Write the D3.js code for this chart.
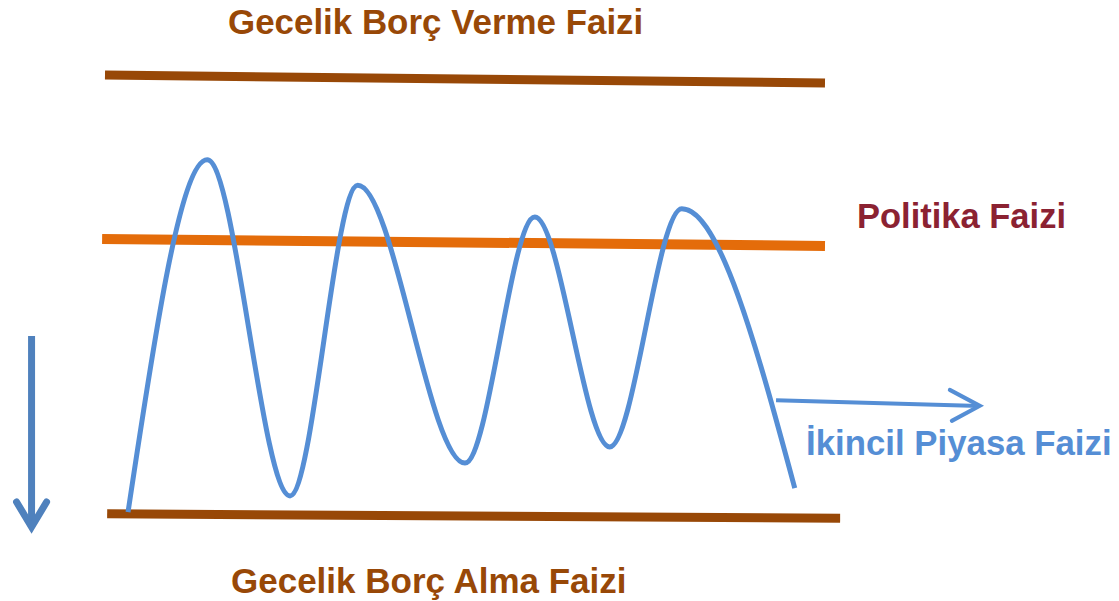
<!DOCTYPE html>
<html>
<head>
<meta charset="utf-8">
<script src="https://cdn.jsdelivr.net/npm/d3@7"></script>
<style>
  body { margin: 0; background: #fff; }
  text { font-family: "Liberation Sans", Arial, sans-serif; font-weight: bold; }
</style>
</head>
<body>
<div id="chart"></div>
<script>
// Diagram values (x: time units 0-100, y: rate units, 0 = borrowing rate)
const rateLines = ['Gecelik Borç Verme Faizi', 'Politika Faizi', 'Gecelik Borç Alma Faizi'];
const lineX = [[0, 100], [-0.4, 100], [0.3, 102.1]];
const lineY = [[10.09, 9.91], [6.34, 6.18], [0.05, -0.05]];
const lineColors = ['#984807', '#E46C0A', '#984807'];

// Secondary market rate: turning points of the wave
const marketX = [3.2, 14.2, 25.7, 35.1, 50, 59.7, 70.1, 80.1, 95.8];
const marketY = [0.09, 8.15, 0.46, 7.57, 1.21, 6.84, 1.58, 7.03, 0.64];

// arrows
const outArrowX = [93.2, 121.5];
const outArrowY = [2.65, 2.52];
const downArrowX = [-10.2, -10.2];
const downArrowY = [4.12, -0.32];

const width = 1119;
const height = 601;

const svg = d3.select('#chart')
    .append('svg')
    .attr('width', width)
    .attr('height', height);

const x = d3.scaleLinear().domain([0, 100]).range([105, 825]);
const y = d3.scaleLinear().domain([0, 10]).range([516, 79]);

// horizontal rate lines
rateLines.forEach((name, i) => {
    svg.append('line')
        .attr('x1', x(lineX[i][0]))
        .attr('y1', y(lineY[i][0]))
        .attr('x2', x(lineX[i][1]))
        .attr('y2', y(lineY[i][1]))
        .style('stroke', lineColors[i])
        .style('stroke-width', i === 1 ? 10 : 9);
});

// wave
const wave = d3.line()
    .x(d => x(d[0]))
    .y(d => y(d[1]))
    .curve(d3.curveMonotoneX);

svg.append('path')
    .datum(marketX.map((v, i) => [v, marketY[i]]))
    .attr('d', wave)
    .style('fill', 'none')
    .style('stroke', '#558ED5')
    .style('stroke-width', 5);

// arrow to the right
const ax1 = x(outArrowX[0]), ay1 = y(outArrowY[0]);
const ax2 = x(outArrowX[1]), ay2 = y(outArrowY[1]);
svg.append('line')
    .attr('x1', ax1).attr('y1', ay1)
    .attr('x2', ax2).attr('y2', ay2)
    .style('stroke', '#558ED5')
    .style('stroke-width', 4);
svg.append('path')
    .attr('d', `M${ax2 - 30},${ay2 - 16} L${ax2},${ay2} L${ax2 - 28},${ay2 + 15}`)
    .style('fill', 'none')
    .style('stroke', '#558ED5')
    .style('stroke-width', 4)
    .style('stroke-linecap', 'round');

// down arrow on the left
const dx = x(downArrowX[0]);
const dy1 = y(downArrowY[0]), dy2 = y(downArrowY[1]);
svg.append('line')
    .attr('x1', dx).attr('y1', dy1)
    .attr('x2', dx).attr('y2', dy2 - 8)
    .style('stroke', '#4F81BD')
    .style('stroke-width', 7);
svg.append('path')
    .attr('d', `M${dx - 15},${dy2 - 28} L${dx},${dy2 - 3} L${dx + 15},${dy2 - 28}`)
    .style('fill', 'none')
    .style('stroke', '#4F81BD')
    .style('stroke-width', 7)
    .style('stroke-linecap', 'round')
    .style('stroke-linejoin', 'miter');

// labels
svg.append('text')
    .attr('transform', 'translate(228,34) scale(0.97,1)')
    .style('font-size', '36px')
    .style('fill', '#984807')
    .text(rateLines[0]);

svg.append('text')
    .attr('x', 857).attr('y', 228)
    .style('font-size', '34.5px')
    .style('fill', '#8B2232')
    .text(rateLines[1]);

svg.append('text')
    .attr('x', 231).attr('y', 593)
    .style('font-size', '35px')
    .style('fill', '#984807')
    .text(rateLines[2]);

svg.append('text')
    .attr('x', 806).attr('y', 455)
    .style('font-size', '34.8px')
    .style('fill', '#558ED5')
    .text('İkincil Piyasa Faizi');
</script>
</body>
</html>
